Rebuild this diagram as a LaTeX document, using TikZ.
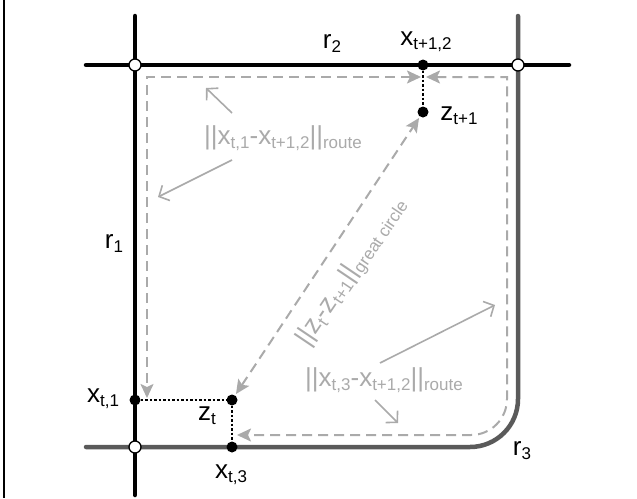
\documentclass[tikz,border=0pt]{standalone}
\usepackage{fontspec}
\setmainfont{Liberation Sans}
\usetikzlibrary{arrows.meta}
\definecolor{roadgrey}{HTML}{5A5A5A}
\definecolor{lightg}{HTML}{AAAAAA}
\newcommand\lowsub[1]{\raisebox{-4pt}{\fontsize{17}{17}\selectfont #1}}
\newcommand\mainsz{\fontsize{26}{30}\selectfont}
\begin{document}
\begin{tikzpicture}[x=1pt,y=-1pt,
  road/.style={line width=4.5pt,line cap=round},
  dotpt/.style={circle,fill=black,inner sep=0pt,minimum size=11pt},
  crosspt/.style={circle,draw=black,fill=white,line width=1.3pt,inner sep=0pt,minimum size=12pt},
  route/.style={draw=lightg,line width=2pt,dash pattern=on 10pt off 6pt,
    >={Stealth[length=14pt,width=13pt,inset=3pt,fill=lightg]},<->},
  callout/.style={draw=lightg,line width=1.6pt,->,>={Straight Barb[length=8pt,width=17pt]}},
  dotline/.style={draw=black,line width=1.8pt,dash pattern=on 2.5pt off 2pt},
  lab/.style={font=\mainsz,inner sep=0pt,text=black},
  glab/.style={font=\mainsz,inner sep=0pt,text=lightg}]
\useasboundingbox (0,0) rectangle (637,498);
\fill[white] (0,0) rectangle (637,498);
% frame line
\coordinate (ftop) at (4,0); \coordinate (fbot) at (4,498);
\draw[line width=1.5pt] (ftop) -- (fbot);
% roads
\coordinate (r1top) at (135,16); \coordinate (r1bot) at (135,495);
\coordinate (r2left) at (86,65); \coordinate (r2right) at (569,65);
\coordinate (r3top) at (518,16); \coordinate (r3corner) at (518,447); \coordinate (r3left) at (86,447);
\draw[road,roadgrey,rounded corners=48pt] (r3top) -- (r3corner) -- (r3left);
\draw[road,black] (r1top) -- (r1bot);
\draw[road,black] (r2left) -- (r2right);
% route A
\coordinate (a1) at (147,398); \coordinate (a2) at (147,77); \coordinate (a3) at (421,77);
\draw[route] (a3) -- (a2) -- (a1);
% route B
\coordinate (b1) at (426,77); \coordinate (b2) at (507,77); \coordinate (b2m) at (507,300);
\coordinate (b3) at (507,435); \coordinate (b4) at (237,435);
\draw[route] (b1) -- (b2) -- (b2m) [rounded corners=36pt] -- (b3) -- (b4);
% points
\node[dotpt] (xt12) at (423,65) {};
\node[dotpt] (zt1) at (423,112) {};
\node[dotpt] (xt1) at (135,400) {};
\node[dotpt] (zt) at (232,400) {};
\node[dotpt] (xt3) at (232,447) {};
\draw[dotline] (xt12) -- (zt1);
\draw[dotline] (xt1) -- (zt);
\draw[dotline] (zt) -- (xt3);
\draw[route,shorten <=1.5pt,shorten >=1.5pt] (zt) -- (zt1);
\node[crosspt] (c12) at (135,65) {};
\node[crosspt] (c23) at (518,65) {};
\node[crosspt] (c13) at (135,447) {};
% labels
\node[lab] (r2lab) at (332,44) {r\lowsub{2}};
\node[lab] (xt12lab) at (426,42) {x\lowsub{t+1,2}};
\node[lab] (zt1lab) at (459,116) {z\lowsub{t+1}};
\node[lab] (r1lab) at (114,244) {r\lowsub{1}};
\node[lab] (xt1lab) at (103,399) {x\lowsub{t,1}};
\node[lab] (ztlab) at (207,416) {z\lowsub{t}};
\node[lab] (xt3lab) at (231,475) {x\lowsub{t,3}};
\node[lab] (r3lab) at (522,451) {r\lowsub{3}};
\node[glab] (routeA) at (283,138) {||x\lowsub{t,1}-x\lowsub{t+1,2}||\lowsub{route}};
\node[glab] (routeB) at (384,380) {||x\lowsub{t,3}-x\lowsub{t+1,2}||\lowsub{route}};
\node[glab,rotate=56] (gc) at (352,272) {||z\lowsub{t}-z\lowsub{t+1}||\lowsub{great circle}};
% callout arrows
\coordinate (ca1s) at (232,113); \coordinate (ca1e) at (206,88);
\coordinate (ca2s) at (232,160); \coordinate (ca2e) at (158,197);
\coordinate (cb1s) at (380,363); \coordinate (cb1e) at (495,305);
\coordinate (cb2s) at (375,400); \coordinate (cb2e) at (398,423);
\draw[callout] (ca1s) -- (ca1e);
\draw[callout] (ca2s) -- (ca2e);
\draw[callout] (cb1s) -- (cb1e);
\draw[callout] (cb2s) -- (cb2e);
\end{tikzpicture}
\end{document}
